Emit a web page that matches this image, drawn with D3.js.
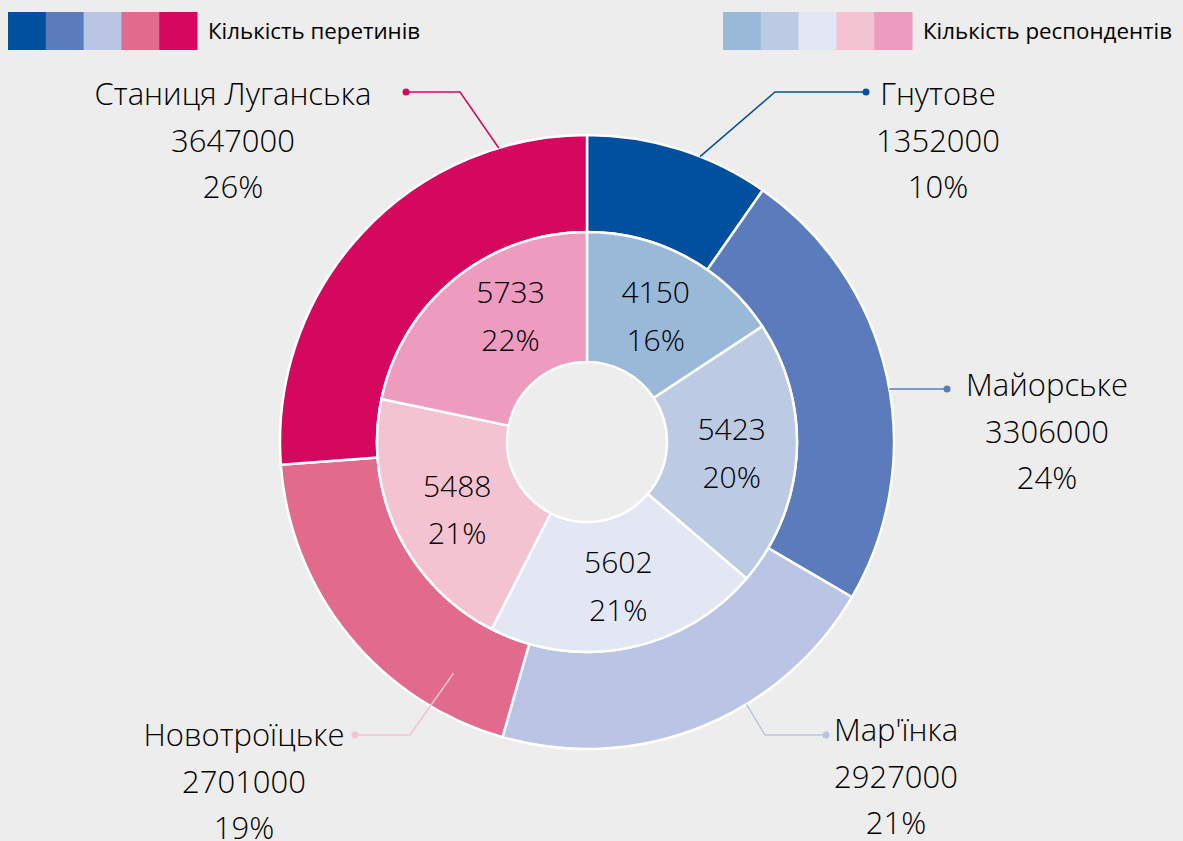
<!DOCTYPE html>
<html>
<head>
<meta charset="utf-8">
<script src="https://cdn.jsdelivr.net/npm/d3@7"></script>
<style>
  html, body { margin: 0; padding: 0; background: #ededed; }
  svg { display: block; }
  text { font-family: "Open Sans", "Noto Sans", sans-serif; fill: #000000; }
</style>
</head>
<body>
<svg id="chart" width="1183" height="841"></svg>
<script>
// Checkpoints
const places = ["Гнутове", "Майорське", "Мар'їнка", "Новотроїцьке", "Станиця Луганська"];
// Number of crossings (outer ring)
const crossings = [1352000, 3306000, 2927000, 2701000, 3647000];
// Number of respondents (inner ring)
const respondents = [4150, 5423, 5602, 5488, 5733];

const legendTitles = ["Кількість перетинів", "Кількість респондентів"];

const outerColors = ["#00509e", "#5b7bbd", "#bac4e5", "#e26a8d", "#d5075f"];
const innerColors = ["#9ab9d9", "#bccae4", "#e3e7f3", "#f3c3d1", "#ee9bc0"];
const leaderColors = ["#00509e", "#5b7bbd", "#bac4e5", "#f3c3d1", "#d5075f"];

// Leader line layout per outer slice: start angle (deg) and radius on ring,
// elbow and dot points relative to centre, label centre x / first baseline
const leaderLayout = [
  { a: 21.6, r: 307, elbow: [188, -350], dot: [279, -350], tx: 351, ty: -337 },
  { a: 80.0, r: 307, elbow: [303, -53], dot: [360, -53], tx: 460, ty: -46 },
  { a: 148.7, r: 307, elbow: [178, 293], dot: [239, 293], tx: 309, ty: 299 },
  { a: 210.0, r: 267, elbow: [-177, 293], dot: [-232, 293], tx: -343, ty: 304 },
  { a: 343.3, r: 307, elbow: [-127, -350], dot: [-181, -350], tx: -354, ty: -337 }
];
// Small nudges of the inner labels away from the arc centroid
const innerNudge = [[0, 0], [0, 0], [3, 0], [1, 3], [15, -15]];

const svg = d3.select("#chart");
const cx = 587, cy = 442;
const rOuter = 307, rMid = 210, rHole = 80;

// Whole-percent shares that add up to 100 (largest remainder)
function shares(values) {
  const total = d3.sum(values);
  const raw = values.map(v => v / total * 100);
  const fl = raw.map(Math.floor);
  let left = 100 - d3.sum(fl);
  const order = d3.range(values.length).sort((a, b) => (raw[b] - fl[b]) - (raw[a] - fl[a]));
  order.forEach(i => { if (left > 0) { fl[i] += 1; left -= 1; } });
  return fl.map(p => p + "%");
}

const pie = d3.pie().sort(null).value(d => d);
const outerArcs = pie(crossings);
const innerArcs = pie(respondents);
const outerShares = shares(crossings);
const innerShares = shares(respondents);

const arcOuter = d3.arc().innerRadius(rMid).outerRadius(rOuter);
const arcInner = d3.arc().innerRadius(rHole).outerRadius(rMid);

const g = svg.append("g").attr("transform", `translate(${cx},${cy})`);

g.selectAll("path.outer").data(outerArcs).join("path")
  .attr("class", "outer")
  .attr("d", arcOuter)
  .attr("fill", (d, i) => outerColors[i])
  .attr("stroke", "#ffffff")
  .attr("stroke-width", 2.5);

g.selectAll("path.inner").data(innerArcs).join("path")
  .attr("class", "inner")
  .attr("d", arcInner)
  .attr("fill", (d, i) => innerColors[i])
  .attr("stroke", "#ffffff")
  .attr("stroke-width", 2.5);

// Inner ring labels: count and share
const labelArc = d3.arc().innerRadius(145).outerRadius(145);
innerArcs.forEach((d, i) => {
  const [x0, y0] = labelArc.centroid(d);
  const x = x0 + innerNudge[i][0], y = y0 + innerNudge[i][1];
  const t = g.append("text")
    .attr("text-anchor", "middle")
    .style("font-size", "30px")
    .style("font-weight", 300);
  t.append("tspan").attr("x", x).attr("y", y - 11).text(d.data);
  t.append("tspan").attr("x", x).attr("y", y + 36.5).text(innerShares[i]);
});

// Outer ring labels with leader lines
outerArcs.forEach((d, i) => {
  const L = leaderLayout[i];
  const ang = L.a * Math.PI / 180;
  const sx = L.r * Math.sin(ang), sy = -L.r * Math.cos(ang);
  g.append("polyline")
    .attr("points", [[sx, sy], L.elbow, L.dot].map(p => p.join(",")).join(" "))
    .attr("fill", "none")
    .attr("stroke", leaderColors[i])
    .attr("stroke-width", 1.5);
  g.append("circle")
    .attr("cx", L.dot[0]).attr("cy", L.dot[1]).attr("r", 3.5)
    .attr("fill", leaderColors[i]);
  const t = g.append("text")
    .attr("text-anchor", "middle")
    .style("font-size", "31px")
    .style("font-weight", 300);
  const lines = [places[i], d.data, outerShares[i]];
  lines.forEach((s, k) => {
    t.append("tspan").attr("x", L.tx).attr("y", L.ty + k * 46.7).text(s);
  });
});

// Legends
function legend(x0, colors, title) {
  const lg = svg.append("g").attr("transform", `translate(${x0},12)`);
  const w = 37.8;
  lg.selectAll("rect").data(colors).join("rect")
    .attr("x", (d, i) => i * w).attr("y", 0)
    .attr("width", w + 0.5).attr("height", 38)
    .attr("fill", d => d);
  lg.append("text")
    .attr("x", colors.length * w + 11).attr("y", 26.5)
    .style("font-size", "22.3px")
    .text(title);
}
legend(8, outerColors, legendTitles[0]);
legend(723, innerColors, legendTitles[1]);
</script>
</body>
</html>
